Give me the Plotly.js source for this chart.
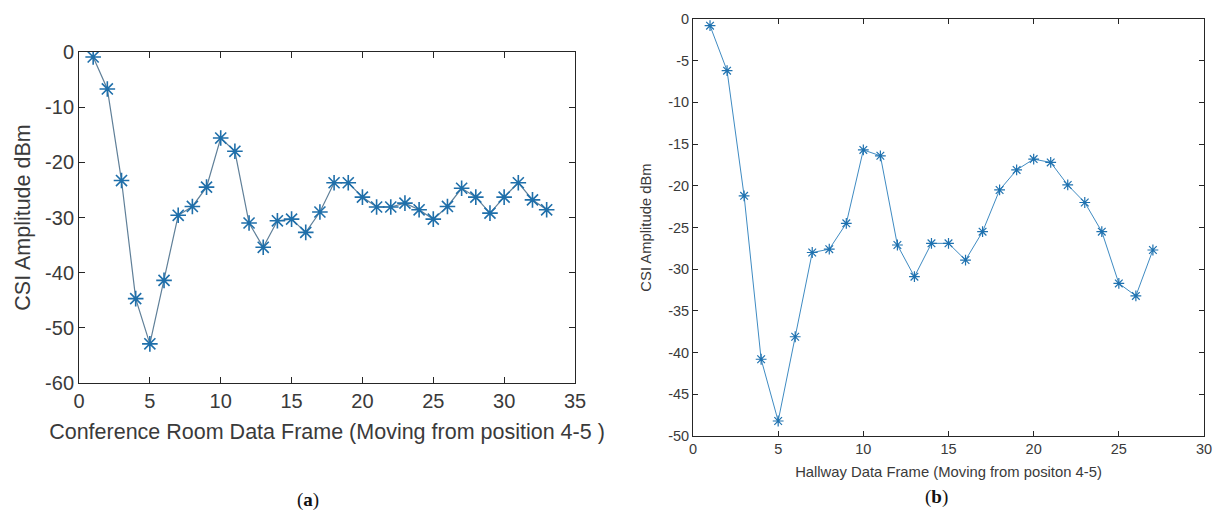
<!DOCTYPE html>
<html>
<head>
<meta charset="utf-8">
<script src="https://cdn.plot.ly/plotly-3.0.1.min.js"></script>
<style>
html,body{margin:0;padding:0;background:#fff;}
#chart{width:1220px;height:514px;}
</style>
</head>
<body>
<div id="chart"></div>
<script>
// Panel (a): Conference room
const framesA = [1,2,3,4,5,6,7,8,9,10,11,12,13,14,15,16,17,18,19,20,21,22,23,24,25,26,27,28,29,30,31,32,33];
const ampA = [-0.9,-6.7,-23.3,-44.7,-52.9,-41.4,-29.6,-28.0,-24.5,-15.6,-18.0,-31.0,-35.4,-30.6,-30.3,-32.7,-29.0,-23.7,-23.7,-26.3,-28.1,-28.1,-27.4,-28.6,-30.3,-28.0,-24.7,-26.3,-29.2,-26.3,-23.7,-26.8,-28.6];
// Panel (b): Hallway
const framesB = [1,2,3,4,5,6,7,8,9,10,11,12,13,14,15,16,17,18,19,20,21,22,23,24,25,26,27];
const ampB = [-0.8,-6.2,-21.2,-40.8,-48.2,-38.1,-28.0,-27.6,-24.5,-15.7,-16.4,-27.1,-30.9,-26.9,-26.9,-28.9,-25.5,-20.5,-18.1,-16.8,-17.2,-19.9,-22.0,-25.5,-31.7,-33.2,-27.7];

const xTicksA = [0,5,10,15,20,25,30,35];
const yTicksA = [0,-10,-20,-30,-40,-50,-60];
const xTicksB = [0,5,10,15,20,25,30];
const yTicksB = [0,-5,-10,-15,-20,-25,-30,-35,-40,-45,-50];

const titleA_x = 'Conference Room Data Frame (Moving from position 4-5 )';
const titleB_x = 'Hallway Data Frame (Moving from positon 4-5)';
const titleY = 'CSI Amplitude dBm';

const W = 1220, H = 514;
const ml = 79, mr = 16, mt = 19, mb = 78;
const pw = W - ml - mr, ph = H - mt - mb;
const fx = px => (px - ml) / pw;
const fy = py => (H - mb - py) / ph;
const labels = arr => arr.map(v => String(v)); // hyphen-minus like the original

const axisCommon = {
  showline: true, linecolor: '#262626', linewidth: 1, mirror: 'ticks',
  ticks: 'inside', tickcolor: '#262626', showgrid: false, zeroline: false,
  tickmode: 'array'
};

const traces = [
  {
    x: framesA, y: ampA, xaxis: 'x', yaxis: 'y', type: 'scatter', mode: 'lines+markers',
    line: {color: '#5f7f98', width: 1.2},
    marker: {symbol: 'asterisk-open', size: 13, color: '#1f6faa', line: {color: '#1f6faa', width: 1.6}},
    showlegend: false, hoverinfo: 'x+y'
  },
  {
    x: framesB, y: ampB, xaxis: 'x2', yaxis: 'y2', type: 'scatter', mode: 'lines+markers',
    line: {color: '#3f8bc2', width: 1},
    marker: {symbol: 'asterisk-open', size: 9, color: '#1f72b0', line: {color: '#1f72b0', width: 1.2}},
    showlegend: false, hoverinfo: 'x+y'
  }
];

const layout = {
  width: W, height: H,
  margin: {l: ml, r: mr, t: mt, b: mb, pad: 0},
  paper_bgcolor: '#ffffff', plot_bgcolor: '#ffffff',
  font: {family: 'Liberation Sans, Arial, sans-serif', color: '#262626'},
  xaxis: Object.assign({}, axisCommon, {
    domain: [fx(79), fx(575)], range: [0, 35], tickvals: xTicksA, ticktext: labels(xTicksA), ticklen: 6,
    tickfont: {size: 20, color: '#3a3a3a'}, anchor: 'y',
    title: {text: titleA_x, font: {size: 21.5, color: '#3a3a3a'}, standoff: 12}
  }),
  yaxis: Object.assign({}, axisCommon, {
    domain: [fy(383), fy(52)], range: [-60, 0], tickvals: yTicksA, ticktext: labels(yTicksA), ticklen: 6,
    tickfont: {size: 20, color: '#3a3a3a'}, anchor: 'x',
    title: {text: titleY, font: {size: 21.5, color: '#3a3a3a'}, standoff: 8}
  }),
  xaxis2: Object.assign({}, axisCommon, {
    domain: [fx(693), fx(1204)], range: [0, 30], tickvals: xTicksB, ticktext: labels(xTicksB), ticklen: 5,
    tickfont: {size: 14.5, color: '#3a3a3a'}, anchor: 'y2',
    title: {text: titleB_x, font: {size: 14.8, color: '#3a3a3a'}, standoff: 10}
  }),
  yaxis2: Object.assign({}, axisCommon, {
    domain: [fy(436), fy(19)], range: [-50, 0], tickvals: yTicksB, ticktext: labels(yTicksB), ticklen: 5,
    tickfont: {size: 14.5, color: '#3a3a3a'}, anchor: 'x2',
    title: {text: titleY, font: {size: 14.8, color: '#3a3a3a'}, standoff: 12}
  }),
  annotations: [
    {text: '(<b>a</b>)', x: 308, y: 500, xref: 'paper', yref: 'paper', showarrow: false,
     font: {family: 'Liberation Serif, DejaVu Serif, serif', size: 19, color: '#111'}},
    {text: '(<b>b</b>)', x: 936, y: 497, xref: 'paper', yref: 'paper', showarrow: false,
     font: {family: 'Liberation Serif, DejaVu Serif, serif', size: 19, color: '#111'}}
  ]
};
// convert caption pixel positions to paper coordinates
layout.annotations.forEach(a => { a.x = fx(a.x); a.y = fy(a.y); a.yanchor = 'middle'; a.xanchor = 'center'; });

Plotly.newPlot('chart', traces, layout, {displayModeBar: false, staticPlot: true});
</script>
</body>
</html>
